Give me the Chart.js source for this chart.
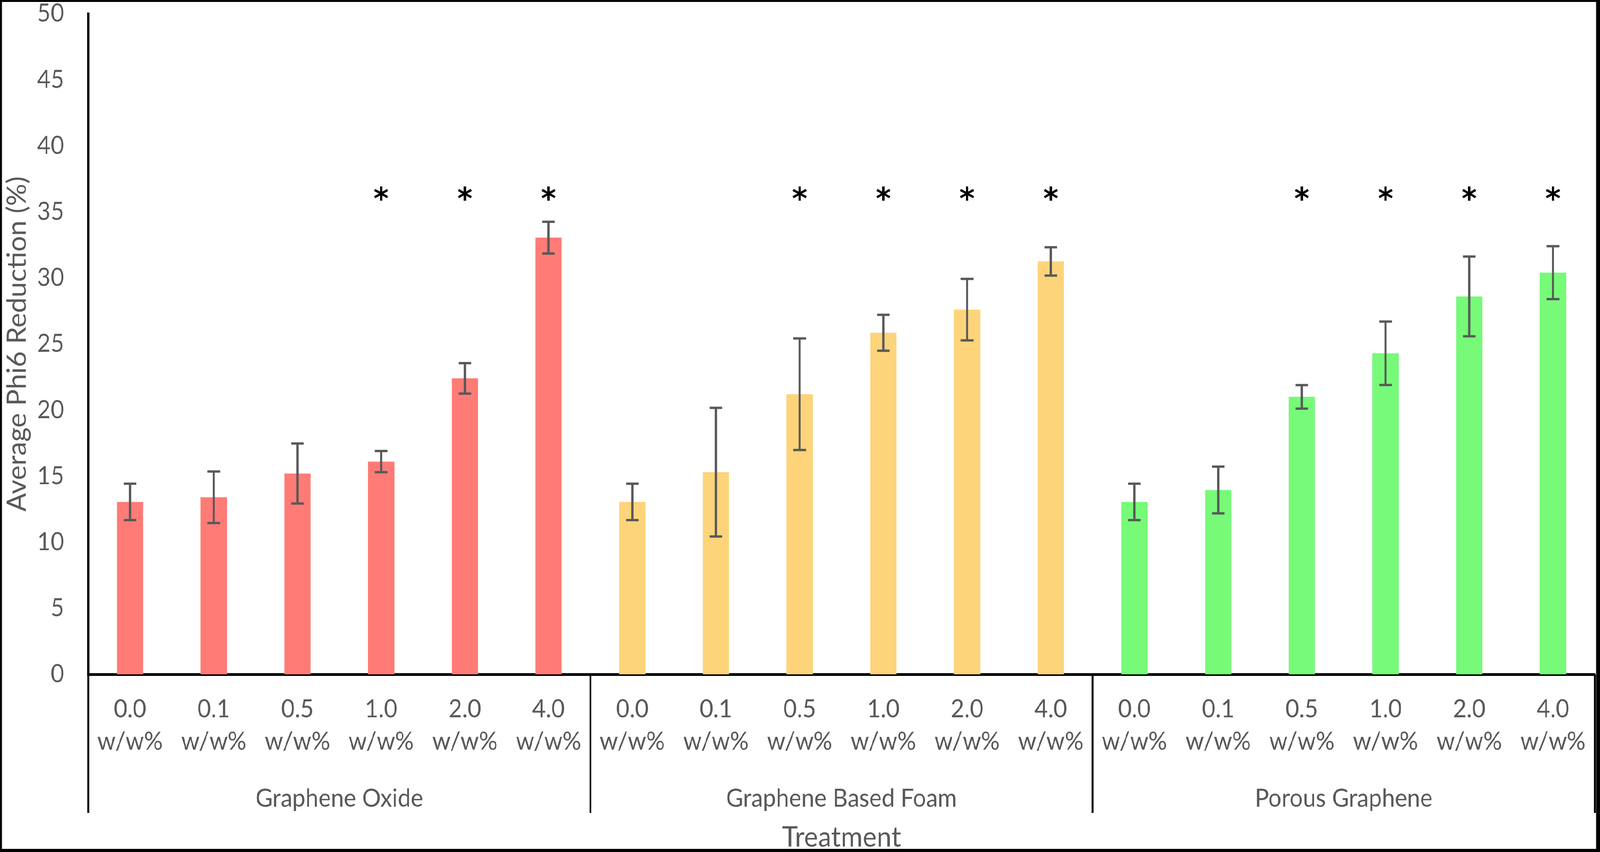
<!DOCTYPE html>
<html lang="en">
<head>
<meta charset="UTF-8">
<title>Average Phi6 Reduction</title>
<script src="https://cdn.jsdelivr.net/npm/chart.js@4.4.0/dist/chart.umd.min.js"></script>
<style>
    html, body { margin: 0; padding: 0; background: #000; overflow: hidden; }
    #stage { position: absolute; left: 0; top: 0; width: 4317px; height: 2182px; background: #000; transform-origin: 0 0; }
    #wrap { position: absolute; left: 5px; top: 5px; width: 4301px; height: 2169px; background: #fff; }
    #chart { display: block; }
</style>
</head>
<body>
<div id="stage"><div id="wrap"><canvas id="chart" width="4301" height="2169"></canvas></div></div>
<script>
    // data
    const groups = ['Graphene Oxide', 'Graphene Based Foam', 'Porous Graphene'];
    const doses = ['0.0', '0.1', '0.5', '1.0', '2.0', '4.0'];
    const goMean = [13.05, 13.4, 15.2, 16.1, 22.4, 33.05];
    const goErr = [1.38, 1.95, 2.27, 0.8, 1.15, 1.2];
    const gbfMean = [13.05, 15.3, 21.2, 25.85, 27.6, 31.25];
    const gbfErr = [1.38, 4.87, 4.22, 1.36, 2.33, 1.07];
    const pgMean = [13.05, 13.95, 21.0, 24.3, 28.6, 30.4];
    const pgErr = [1.38, 1.77, 0.89, 2.4, 3.02, 2.0];
    const significant = [0, 0, 0, 1, 1, 1, 0, 0, 1, 1, 1, 1, 0, 0, 1, 1, 1, 1];
    const starValue = 36.4;
    const groupColors = ['#FF7B76', '#FDD47A', '#76FA78'];

    // the window may be narrower than the figure: squeeze the whole stage to fit
    document.getElementById('stage').style.transform =
        'scale(' + (window.innerWidth / 4317) + ',' + (window.innerHeight / 2182) + ')';

    const means = [goMean, gbfMean, pgMean];
    const errs = [goErr, gbfErr, pgErr];
    const labels = [], values = [], errors = [], colors = [];
    groups.forEach((g, gi) => {
        doses.forEach((d, di) => {
            labels.push([d, 'w/w%']);
            values.push(means[gi][di]);
            errors.push(errs[gi][di]);
            colors.push(groupColors[gi]);
        });
    });

    const FONT = 'Lato';
    const GREY = '#595959';

    // error bars, asterisks, group labels and separators
    const extras = {
        id: 'extras',
        afterDatasetsDraw(chart) {
            const ctx = chart.ctx;
            const x = chart.scales.x, y = chart.scales.y;
            ctx.save();
            ctx.strokeStyle = GREY;
            ctx.lineWidth = 6;
            values.forEach((v, i) => {
                const px = x.getPixelForValue(i);
                const top = y.getPixelForValue(v + errors[i]);
                const bot = y.getPixelForValue(v - errors[i]);
                ctx.beginPath();
                ctx.moveTo(px, top); ctx.lineTo(px, bot);
                ctx.moveTo(px - 17, top); ctx.lineTo(px + 17, top);
                ctx.moveTo(px - 17, bot); ctx.lineTo(px + 17, bot);
                ctx.stroke();
            });

            ctx.fillStyle = '#000';
            ctx.font = 'bold 78px "DejaVu Sans"';
            ctx.textAlign = 'center';
            ctx.textBaseline = 'alphabetic';
            const m = ctx.measureText('*');
            const shift = (m.actualBoundingBoxAscent - m.actualBoundingBoxDescent) / 2;
            significant.forEach((s, i) => {
                if (!s) return;
                ctx.fillText('*', x.getPixelForValue(i), y.getPixelForValue(starValue) + shift);
            });
            ctx.restore();
        },
        afterDraw(chart) {
            const ctx = chart.ctx;
            const x = chart.scales.x;
            const area = chart.chartArea;
            const step = x.getPixelForValue(1) - x.getPixelForValue(0);
            const lineBottom = 2077;
            ctx.save();
            ctx.strokeStyle = '#000';
            ctx.lineWidth = 5;
            for (let g = 0; g <= groups.length; g++) {
                const px = x.getPixelForValue(g * doses.length) - step / 2;
                ctx.beginPath();
                ctx.moveTo(px, area.bottom);
                ctx.lineTo(px, lineBottom);
                ctx.stroke();
            }
            ctx.fillStyle = GREY;
            ctx.font = '63px ' + FONT;
            ctx.textAlign = 'center';
            ctx.textBaseline = 'middle';
            groups.forEach((g, gi) => {
                const a = x.getPixelForValue(gi * doses.length) - step / 2;
                const b = a + step * doses.length;
                ctx.fillText(g, (a + b) / 2, 2041);
            });
            ctx.restore();
        }
    };

    new Chart(document.getElementById('chart'), {
        type: 'bar',
        data: {
            labels: labels,
            datasets: [{
                data: values,
                backgroundColor: colors,
                categoryPercentage: 1,
                barPercentage: 0.314
            }]
        },
        options: {
            responsive: false,
            devicePixelRatio: 1,
            animation: false,
            layout: { padding: { top: 30, right: 3, bottom: 0, left: 0 } },
            plugins: { legend: { display: false }, tooltip: { enabled: false } },
            scales: {
                x: {
                    grid: { display: false, drawTicks: false },
                    border: { color: '#000', width: 7 },
                    ticks: { color: GREY, padding: 48, font: { family: FONT, size: 63, lineHeight: 1.32 }, maxRotation: 0, autoSkip: false },
                    title: { display: true, text: 'Treatment', color: GREY, padding: 0, font: { family: FONT, size: 72, lineHeight: 0.8 } },
                    afterFit(s) { s.height = 447; s.paddingLeft = 0; s.paddingRight = 0; }
                },
                y: {
                    min: 0,
                    max: 50,
                    grid: { display: false, drawTicks: false },
                    border: { color: '#000', width: 6 },
                    ticks: { stepSize: 5, color: GREY, padding: 65, font: { family: FONT, size: 63, lineHeight: 0.9 } },
                    title: { display: true, text: 'Average Phi6 Reduction (%)', color: GREY, padding: 0, font: { family: FONT, size: 71, lineHeight: 1.2 } },
                    afterFit(s) { s.width = 233; s.paddingTop = 0; s.paddingBottom = 0; }
                }
            }
        },
        plugins: [extras]
    });
</script>
</body>
</html>
